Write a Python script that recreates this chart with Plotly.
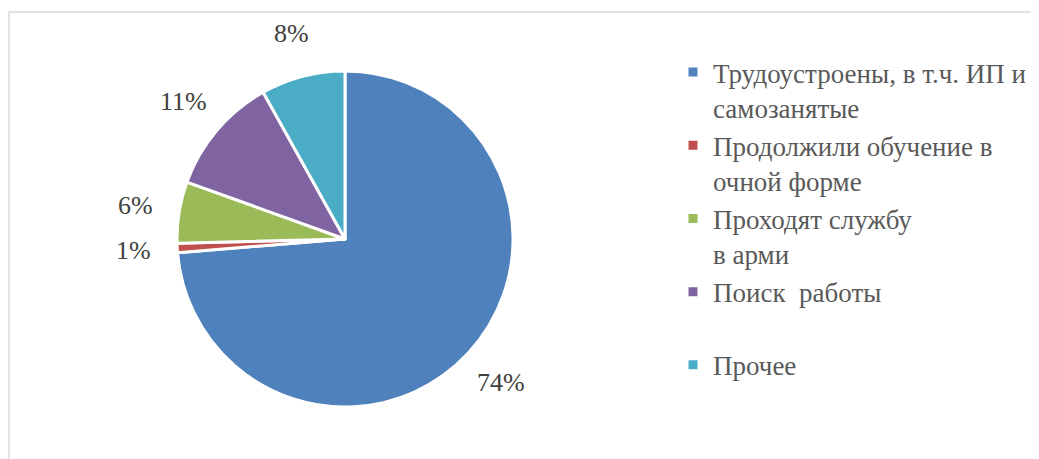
import math
import plotly.graph_objects as go

categories = [
    "Трудоустроены, в т.ч. ИП и<br>самозанятые",
    "Продолжили обучение в<br>очной форме",
    "Проходят службу<br>в арми",
    "Поиск  работы<br> ",
    "Прочее",
]
values = [73.7, 0.9, 5.9, 11.4, 8.1]
colors = ["#4F81BD", "#C0504D", "#9BBB59", "#8064A2", "#4BACC6"]

W, H = 1039, 459
FONT = "Liberation Serif"

# pie geometry (paper pixels)
CX, CY, R = 337, 231, 168
R_LABEL = 212

fig = go.Figure(go.Pie(
    labels=categories,
    values=values,
    sort=False,
    direction="clockwise",
    rotation=0,
    marker=dict(colors=colors, line=dict(color="white", width=3)),
    textinfo="none",
    domain=dict(x=[(CX - R) / W, (CX + R) / W], y=[1 - (CY + R) / H, 1 - (CY - R) / H]),
    hoverinfo="label+percent",
))

# percentage labels placed outside each slice, at the slice's mid-angle
total = sum(values)
annotations = []
cum = 0.0
for v in values:
    mid = (cum + v / 2) / total
    cum += v
    th = 2 * math.pi * mid
    px = CX + R_LABEL * math.sin(th)
    py = CY - R_LABEL * math.cos(th)
    annotations.append(dict(
        x=px / W, y=1 - py / H, xref="paper", yref="paper",
        text=f"{round(100 * v / total):d}%", showarrow=False,
        xanchor="center", yanchor="middle",
        font=dict(family=FONT, size=26, color="#404040"),
    ))

fig.update_layout(
    width=W, height=H,
    margin=dict(l=0, r=0, t=0, b=0),
    paper_bgcolor="white",
    plot_bgcolor="white",
    font=dict(family=FONT, size=27, color="#595959"),
    showlegend=True,
    legend=dict(
        x=665 / W, y=1 - 40 / H, xanchor="left", yanchor="top",
        valign="top",
        font=dict(family=FONT, size=27, color="#595959"),
        itemwidth=30,
    ),
    annotations=annotations,
    shapes=[dict(
        type="rect", xref="paper", yref="paper",
        x0=1 / W, x1=1.02, y0=-0.05, y1=1 - 4 / H,
        line=dict(color="#D9D9D9", width=1.5),
        fillcolor="rgba(0,0,0,0)", layer="below",
    )],
)

fig.write_html("out.html")
